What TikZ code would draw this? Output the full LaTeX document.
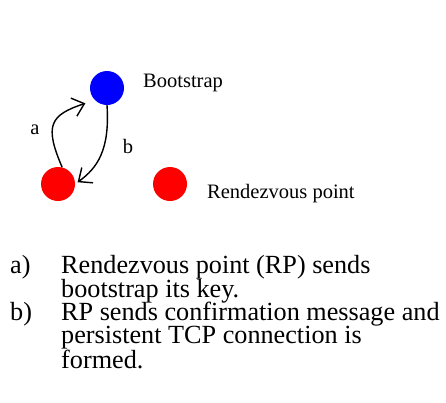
\documentclass[tikz,border=0pt]{standalone}
\usepackage{fontspec}
\setmainfont{Liberation Serif}
\usetikzlibrary{arrows.meta, positioning}
\definecolor{bootblue}{HTML}{0000FF}
\definecolor{rpred}{HTML}{FF0000}
\tikzset{
  peer/.style     = {circle, minimum size=34pt, inner sep=0pt},
  bootpeer/.style = {peer, fill=bootblue},
  rppeer/.style   = {peer, fill=rpred},
  peerlbl/.style  = {font=\fontsize{20.5}{24}\selectfont, inner sep=0pt,
                     anchor=base west},
  msglbl/.style   = {font=\fontsize{20.5}{24}\selectfont, inner sep=0pt},
  msgarr/.style   = {line width=1.4pt,
                     -{Straight Barb[length=11pt, width=19pt]}},
  itemtag/.style  = {font=\fontsize{26.2}{23.5}\selectfont, inner sep=0pt,
                     anchor=base west},
  itemtxt/.style  = {itemtag, align=left, anchor=north west},
}
\begin{document}
\begin{tikzpicture}[x=1pt, y=-1pt]
  \useasboundingbox (0,0) rectangle (446,402);

  % peers
  \node[bootpeer] (boot) at (107,88) {};
  \node[rppeer] (rpa) at (58,184) {};
  \node[rppeer] (rpb) at (170,184) {};
  \node[peerlbl] (bootlbl) at (143,87) {Bootstrap};
  \node[peerlbl] (rplbl) at (207,198) {Rendezvous point};

  % messages
  \draw[msgarr, shorten >=10pt] (rpa.76)
       .. controls +(-18,-42) and +(-45,15) .. (boot.225);
  \draw[msgarr, shorten >=3pt] (boot.south)
       .. controls +(3,45) and +(22,-16) .. (rpa.east);
  \node[msglbl] (lbla) at (35,130) {a};
  \node[msglbl] (lblb) at (128,146) {b};

  % steps
  \node[itemtag] (taga) at (10,273) {a)};
  \node[itemtxt] (stepa) at (61,0 |- taga.north) {Rendezvous point (RP) sends\\bootstrap its key.};
  \node[itemtag] (tagb) at (10,320) {b)};
  \node[itemtxt] (stepb) at (61,0 |- tagb.north) {RP sends confirmation message and\\persistent TCP connection is\\formed.};
\end{tikzpicture}
\end{document}
